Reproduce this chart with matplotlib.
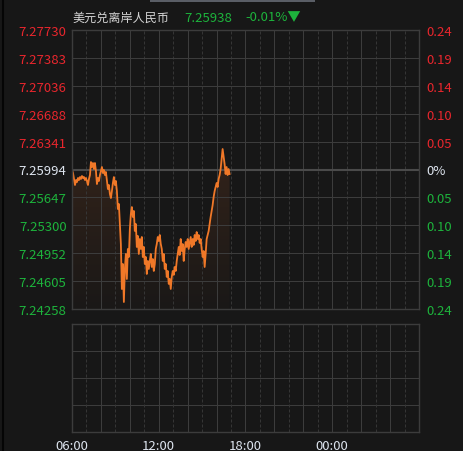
import numpy as np
import matplotlib.pyplot as plt
from matplotlib.patches import Rectangle
from matplotlib.lines import Line2D
from matplotlib.colors import LinearSegmentedColormap

plt.rcParams["font.family"] = ["Noto Sans CJK SC", "DejaVu Sans"]

TITLE = "美元兑离岸人民币"
LAST_PRICE = "7.25938"
LAST_CHANGE = "-0.01%▼"
BASE = 7.25994

# left axis price levels (top -> bottom) and right axis percent labels
PRICE_LEVELS = [7.27730, 7.27383, 7.27036, 7.26688, 7.26341, 7.25994,
                7.25647, 7.25300, 7.24952, 7.24605, 7.24258]
PCT_LABELS = ["0.24", "0.19", "0.14", "0.10", "0.05", "0%",
              "0.05", "0.10", "0.14", "0.19", "0.24"]
TIME_TICKS = [6, 12, 18, 24]
TIME_LABELS = ["06:00", "12:00", "18:00", "00:00"]

# intraday prices, 06:00 -> ~16:54
PRICES = [
    7.25988, 7.25950, 7.25876, 7.25801, 7.25863, 7.25838, 7.25888, 7.25863,
    7.25900, 7.25876, 7.25913, 7.25888, 7.25900, 7.25863, 7.25888, 7.25851,
    7.25801, 7.25876, 7.25925, 7.26087, 7.26025, 7.26075, 7.26000, 7.26075,
    7.25975, 7.25813, 7.25888, 7.25851, 7.25925, 7.25975, 7.26025, 7.25950,
    7.25988, 7.25925, 7.25963, 7.25851, 7.25751, 7.25801, 7.25689, 7.25639,
    7.25726, 7.25826, 7.25900, 7.25801, 7.25851, 7.25726, 7.25502, 7.25565,
    7.25316, 7.25067, 7.24507, 7.24818, 7.24345, 7.24756, 7.24943, 7.24632,
    7.25005, 7.24905, 7.25254, 7.25440, 7.25527, 7.25403, 7.25478, 7.25229,
    7.25316, 7.25030, 7.25167, 7.24943, 7.25129, 7.25005, 7.25154, 7.24905,
    7.25030, 7.24818, 7.24905, 7.24694, 7.24856, 7.24756, 7.24856, 7.24943,
    7.24781, 7.24880, 7.24731, 7.24818, 7.25005, 7.25067, 7.25154, 7.25104,
    7.25179, 7.25067, 7.25005, 7.24856, 7.24943, 7.24756, 7.24818, 7.24657,
    7.24731, 7.24570, 7.24632, 7.24507, 7.24657, 7.24731, 7.24682, 7.24781,
    7.24731, 7.24856, 7.24943, 7.25030, 7.24930, 7.25129, 7.24980, 7.25067,
    7.24856, 7.25005, 7.25092, 7.25030, 7.25129, 7.25005, 7.25080, 7.25154,
    7.25030, 7.25129, 7.25055, 7.25179, 7.25104, 7.25216, 7.25129, 7.25179,
    7.25080, 7.25129, 7.25005, 7.24905, 7.24980, 7.24781, 7.24943, 7.25129,
    7.25179, 7.25229, 7.25316, 7.25403, 7.25478, 7.25552, 7.25652, 7.25726,
    7.25776, 7.25826, 7.25776, 7.25876, 7.25925, 7.26000, 7.26124, 7.26249,
    7.26150, 7.26062, 7.25938, 7.26025, 7.25925, 7.26000, 7.25938,
]

BG = "#171717"
GRID = "#3c3c3c"
DASH = "#353535"
RED = "#e8262d"
GREEN = "#1db33c"
WHITE = "#dde4ee"
ORANGE = "#f07828"

fig = plt.figure(figsize=(4.64, 4.52), dpi=100, facecolor=BG)

times = np.linspace(6.0, 16.9, len(PRICES))


def style_axes(ax):
    ax.set_facecolor(BG)
    ax.set_xlim(6, 30)
    for h in range(6, 31):
        if (h - 6) % 2 == 0:
            ax.axvline(h, color=GRID, lw=0.75, zorder=1.5)
        else:
            ax.axvline(h, color=DASH, lw=0.75, ls=(0, (2.9, 1.9)), zorder=1.5)
    for s in ax.spines.values():
        s.set_color("#3c3c3c")
        s.set_linewidth(1.0)
    ax.tick_params(length=0)


# main price panel
ax = fig.add_axes([72 / 464, 1 - 310 / 452, 347 / 464, 279 / 452])
style_axes(ax)
ymin, ymax = PRICE_LEVELS[-1], PRICE_LEVELS[0]
ax.set_ylim(ymin, ymax)
for lv in PRICE_LEVELS[1:-1]:
    if lv == BASE:
        ax.axhline(lv, color="#4a4a4a", lw=1.5, zorder=1.5)
    else:
        ax.axhline(lv, color=GRID, lw=0.75, zorder=1.5)

# gradient area under the line
poly = ax.fill_between(times, PRICES, ymin, color="none", lw=0, zorder=1)
cmap = LinearSegmentedColormap.from_list("fade", ["#1a1817", "#33231a"])
grad = np.linspace(0, 1, 256).reshape(-1, 1)
img = ax.imshow(grad, cmap=cmap, aspect="auto", origin="lower",
                extent=[times[0], times[-1], ymin, max(PRICES)], zorder=1)
img.set_clip_path(poly.get_paths()[0], transform=ax.transData)
ax.plot(times, PRICES, color=ORANGE, lw=1.3, zorder=2)
ax.set_xlim(6, 30)
ax.set_ylim(ymin, ymax)

ax.set_xticks([])
ax.set_yticks(PRICE_LEVELS)
ax.set_yticklabels([f"{v:.5f}" for v in PRICE_LEVELS], fontsize=9.5)
for i, t in enumerate(ax.get_yticklabels()):
    t.set_color(RED if i < 5 else (WHITE if i == 5 else GREEN))
ax.tick_params(axis="y", pad=4)

ax2 = ax.twinx()
ax2.set_ylim(ymin, ymax)
ax2.set_yticks(PRICE_LEVELS)
ax2.set_yticklabels(PCT_LABELS, fontsize=9.5)
for i, t in enumerate(ax2.get_yticklabels()):
    t.set_color(RED if i < 5 else (WHITE if i == 5 else GREEN))
ax2.tick_params(length=0, pad=5)
for s in ax2.spines.values():
    s.set_visible(False)

# lower (volume) panel, empty
axv = fig.add_axes([72 / 464, 1 - 433 / 452, 347 / 464, 108 / 452])
style_axes(axv)
axv.set_ylim(0, 4)
for r in range(1, 4):
    axv.axhline(r, color=GRID, lw=0.75, zorder=0)
axv.set_yticks([])
axv.set_xticks(TIME_TICKS)
axv.set_xticklabels(TIME_LABELS, fontsize=9.5, color=WHITE)
axv.tick_params(axis="x", pad=5)

# header
fig.text(72 / 464, 1 - 18 / 452, TITLE, fontsize=8.7, color="#d6d6d6", va="center")
fig.text(184 / 464, 1 - 18 / 452, LAST_PRICE, fontsize=9.5, color=GREEN, va="center")
fig.text(245 / 464, 1 - 18 / 452, LAST_CHANGE, fontsize=9.5, color=GREEN, va="center")

# window chrome: left border and scroll bar
fig.add_artist(Line2D([3 / 464, 3 / 464], [0, 1], color="#050505", lw=1.5))
fig.add_artist(Rectangle((150 / 464, 1 - 3 / 452), 165 / 464, 3 / 452,
                         color="#5a5e66", lw=0))

fig.savefig("out.png", dpi=100, facecolor=BG)
